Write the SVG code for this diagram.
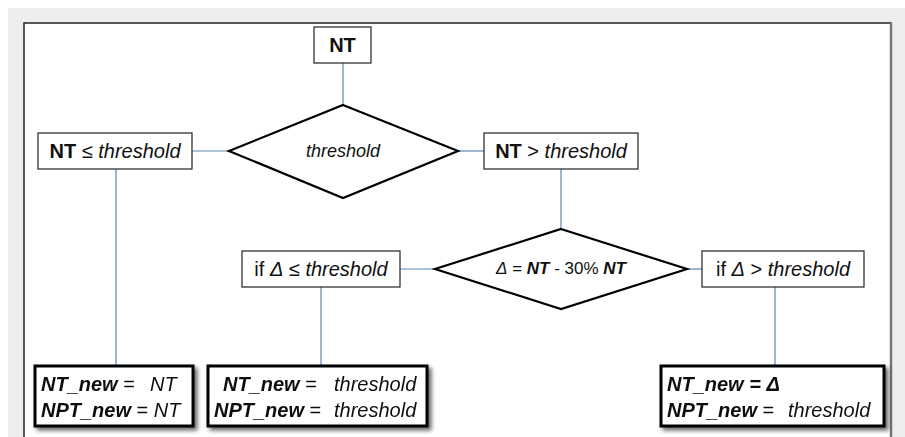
<svg xmlns="http://www.w3.org/2000/svg" width="905" height="437" viewBox="0 0 905 437">
<defs>
<filter id="sh" x="-10%" y="-20%" width="125%" height="150%">
<feGaussianBlur in="SourceAlpha" stdDeviation="2"/>
<feOffset dx="3" dy="3" result="b"/>
<feComponentTransfer><feFuncA type="linear" slope="0.6"/></feComponentTransfer>
<feMerge><feMergeNode/><feMergeNode in="SourceGraphic"/></feMerge>
</filter>
</defs>
<style>
text{font-family:"Liberation Sans",Arial,sans-serif;fill:#111}
.box{fill:#fff;stroke:#333;stroke-width:1.3}
.dia{fill:#fff;stroke:#000;stroke-width:2.2}
.res{fill:#fff;stroke:#000;stroke-width:3}
.lbl{font-size:20px}
.res-t{font-size:20px}
.b{font-weight:bold}
.i{font-style:italic}
.bi{font-weight:bold;font-style:italic}
#connectors line{stroke:#5b87b5;stroke-width:1.2}
</style>
<rect x="0" y="0" width="905" height="437" fill="#fff"/>
<rect x="8" y="8" width="897" height="429" fill="#eeeeee"/>
<rect x="24" y="23" width="867" height="430" fill="#fff" stroke="#222" stroke-width="1.5"/>
<line x1="891" y1="23" x2="891" y2="437" stroke="#777" stroke-width="2.5"/>

<g id="connectors">
<line x1="343" y1="63" x2="343" y2="105"/>
<line x1="192" y1="151" x2="229" y2="151"/>
<line x1="458" y1="151" x2="484" y2="151"/>
<line x1="116" y1="169" x2="116" y2="366"/>
<line x1="561" y1="169" x2="561" y2="229"/>
<line x1="400" y1="269" x2="435" y2="269"/>
<line x1="687" y1="269" x2="702" y2="269"/>
<line x1="321" y1="287" x2="321" y2="366"/>
<line x1="775" y1="287" x2="775" y2="366"/>
</g>

<g id="nt">
<rect class="box" x="314" y="27" width="57" height="36"/>
<text class="lbl b" x="342.5" y="52" text-anchor="middle">NT</text>
</g>
<g id="d1">
<polygon class="dia" points="343,105 458,151 343,198 229,151"/>
<text class="i" x="343" y="157" text-anchor="middle" style="font-size:18px">threshold</text>
</g>
<g id="le">
<rect class="box" x="38" y="133" width="154" height="36"/>
<text class="lbl" x="115" y="158" text-anchor="middle"><tspan class="b">NT</tspan> ≤ <tspan class="i">threshold</tspan></text>
</g>
<g id="gt">
<rect class="box" x="484" y="133" width="154" height="36"/>
<text class="lbl" x="561" y="158" text-anchor="middle"><tspan class="b">NT</tspan> &gt; <tspan class="i">threshold</tspan></text>
</g>
<g id="d2">
<polygon class="dia" points="561,229 687,269 561,309 435,269"/>
<text x="561" y="274" text-anchor="middle" style="font-size:17px"><tspan class="i">Δ</tspan> = <tspan class="bi">NT</tspan> - 30% <tspan class="bi">NT</tspan></text>
</g>
<g id="dle">
<rect class="box" x="242" y="251" width="158" height="36"/>
<text class="lbl" x="321" y="276" text-anchor="middle">if <tspan class="i">Δ</tspan> ≤ <tspan class="i">threshold</tspan></text>
</g>
<g id="dgt">
<rect class="box" x="702" y="251" width="162" height="36"/>
<text class="lbl" x="783" y="276" text-anchor="middle">if <tspan class="i">Δ</tspan> &gt; <tspan class="i">threshold</tspan></text>
</g>
<g id="r1" filter="url(#sh)">
<rect class="res" x="35" y="366" width="158" height="60"/>
<text class="res-t" x="41" y="391"><tspan class="bi">NT_new</tspan> = <tspan class="i" x="150">NT</tspan></text>
<text class="res-t" x="41" y="417"><tspan class="bi">NPT_new</tspan> = <tspan class="i">NT</tspan></text>
</g>
<g id="r2" filter="url(#sh)">
<rect class="res" x="208" y="366" width="219" height="60"/>
<text class="res-t" x="223" y="391"><tspan class="bi">NT_new</tspan> = <tspan class="i" x="334">threshold</tspan></text>
<text class="res-t" x="214" y="417"><tspan class="bi">NPT_new</tspan> = <tspan class="i" x="334">threshold</tspan></text>
</g>
<g id="r3" filter="url(#sh)">
<rect class="res" x="661" y="366" width="223" height="60"/>
<text class="res-t" x="667" y="391"><tspan class="bi">NT_new</tspan><tspan class="bi"> = Δ</tspan></text>
<text class="res-t" x="667" y="417"><tspan class="bi">NPT_new</tspan> = <tspan class="i" x="788">threshold</tspan></text>
</g>
</svg>
